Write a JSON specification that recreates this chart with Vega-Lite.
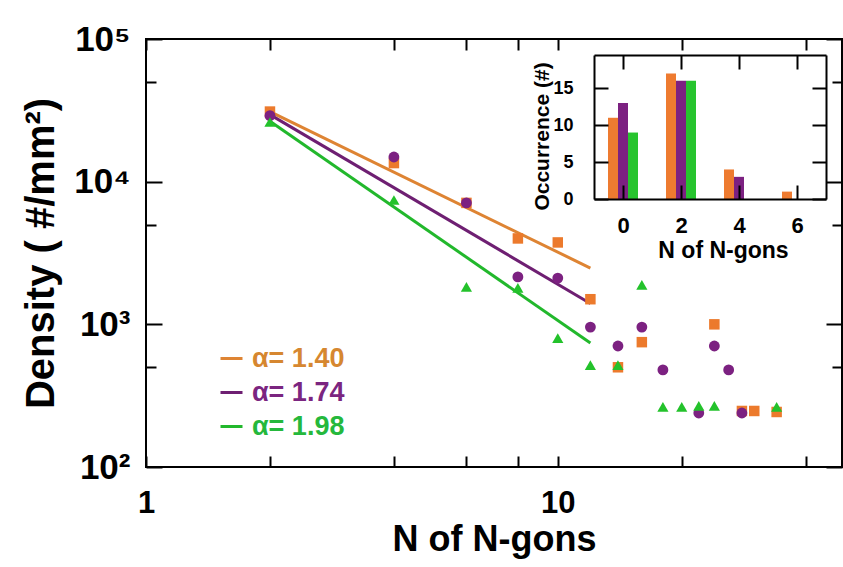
{
  "$schema": "https://vega.github.io/schema/vega-lite/v6.json",
  "width": 696,
  "height": 428,
  "autosize": {"type": "none"},
  "padding": {"left": 146, "top": 39, "right": 1, "bottom": 100},
  "background": "white",
  "config": {
    "view": {"stroke": "black", "strokeWidth": 2},
    "font": "Liberation Sans",
    "axis": {
      "grid": false,
      "labelFont": "Liberation Sans",
      "titleFont": "Liberation Sans",
      "labelFontWeight": "bold",
      "titleFontWeight": "bold",
      "labelColor": "black",
      "titleColor": "black",
      "tickColor": "black",
      "domainColor": "black",
      "tickWidth": 2,
      "domainWidth": 2
    }
  },
  "datasets": {
    "points": [
      {"N": 2, "Density": 31000, "series": "α= 1.40"},
      {"N": 4, "Density": 13500, "series": "α= 1.40"},
      {"N": 6, "Density": 7100, "series": "α= 1.40"},
      {"N": 8, "Density": 4000, "series": "α= 1.40"},
      {"N": 10, "Density": 3750, "series": "α= 1.40"},
      {"N": 12, "Density": 1500, "series": "α= 1.40"},
      {"N": 14, "Density": 500, "series": "α= 1.40"},
      {"N": 16, "Density": 750, "series": "α= 1.40"},
      {"N": 24, "Density": 1000, "series": "α= 1.40"},
      {"N": 28, "Density": 247, "series": "α= 1.40"},
      {"N": 30, "Density": 247, "series": "α= 1.40"},
      {"N": 34, "Density": 243, "series": "α= 1.40"},
      {"N": 2, "Density": 29000, "series": "α= 1.74"},
      {"N": 4, "Density": 14900, "series": "α= 1.74"},
      {"N": 6, "Density": 7100, "series": "α= 1.74"},
      {"N": 8, "Density": 2150, "series": "α= 1.74"},
      {"N": 10, "Density": 2110, "series": "α= 1.74"},
      {"N": 12, "Density": 957, "series": "α= 1.74"},
      {"N": 14, "Density": 705, "series": "α= 1.74"},
      {"N": 16, "Density": 957, "series": "α= 1.74"},
      {"N": 18, "Density": 479, "series": "α= 1.74"},
      {"N": 22, "Density": 239, "series": "α= 1.74"},
      {"N": 24, "Density": 705, "series": "α= 1.74"},
      {"N": 26, "Density": 479, "series": "α= 1.74"},
      {"N": 28, "Density": 239, "series": "α= 1.74"},
      {"N": 2, "Density": 26200, "series": "α= 1.98"},
      {"N": 4, "Density": 7440, "series": "α= 1.98"},
      {"N": 6, "Density": 1830, "series": "α= 1.98"},
      {"N": 8, "Density": 1800, "series": "α= 1.98"},
      {"N": 10, "Density": 800, "series": "α= 1.98"},
      {"N": 12, "Density": 518, "series": "α= 1.98"},
      {"N": 14, "Density": 518, "series": "α= 1.98"},
      {"N": 16, "Density": 1890, "series": "α= 1.98"},
      {"N": 18, "Density": 264, "series": "α= 1.98"},
      {"N": 20, "Density": 264, "series": "α= 1.98"},
      {"N": 22, "Density": 268, "series": "α= 1.98"},
      {"N": 24, "Density": 268, "series": "α= 1.98"},
      {"N": 34, "Density": 264, "series": "α= 1.98"}
    ],
    "fits": [
      {"N": 2, "Density": 31000, "series": "α= 1.40"},
      {"N": 12, "Density": 2480, "series": "α= 1.40"},
      {"N": 2, "Density": 29500, "series": "α= 1.74"},
      {"N": 12, "Density": 1400, "series": "α= 1.74"},
      {"N": 2, "Density": 26500, "series": "α= 1.98"},
      {"N": 12, "Density": 740, "series": "α= 1.98"}
    ],
    "hist": [
      {"n": 0, "count": 11, "series": "α= 1.40"},
      {"n": 0, "count": 13, "series": "α= 1.74"},
      {"n": 0, "count": 9, "series": "α= 1.98"},
      {"n": 2, "count": 17, "series": "α= 1.40"},
      {"n": 2, "count": 16, "series": "α= 1.74"},
      {"n": 2, "count": 16, "series": "α= 1.98"},
      {"n": 4, "count": 4, "series": "α= 1.40"},
      {"n": 4, "count": 3, "series": "α= 1.74"},
      {"n": 4, "count": 0, "series": "α= 1.98"},
      {"n": 6, "count": 1, "series": "α= 1.40"},
      {"n": 6, "count": 0, "series": "α= 1.74"},
      {"n": 6, "count": 0, "series": "α= 1.98"}
    ]
  },
  "resolve": {
    "scale": {"x": "independent", "y": "independent", "color": "independent"},
    "axis": {"x": "independent", "y": "independent"},
    "legend": {"color": "independent"}
  },
  "layer": [
    {
      "data": {"name": "fits"},
      "mark": {"type": "line", "strokeWidth": 3},
      "encoding": {
        "x": {
          "field": "N", "type": "quantitative",
          "scale": {"type": "log", "domain": [1, 49], "nice": false},
          "axis": {
            "orient": "top", "values": [1, 2, 4, 6, 8, 10, 20, 40], "labels": false,
            "tickSize": -11, "domain": false, "title": null
          }
        },
        "y": {
          "field": "Density", "type": "quantitative",
          "scale": {"type": "log", "domain": [100, 100000], "nice": false},
          "axis": {
            "orient": "right", "values": [100, 500, 1000, 5000, 10000, 50000, 100000], "labels": false,
            "tickSize": {"condition": {"test": "indexof([100,1000,10000,100000], datum.value) >= 0", "value": -16}, "value": -10},
            "domain": false, "title": null
          }
        },
        "color": {
          "field": "series", "type": "nominal",
          "scale": {"domain": ["α= 1.40", "α= 1.74", "α= 1.98"], "range": ["#DE8433", "#6E1F72", "#22B82C"]},
          "legend": {
            "orient": "none", "legendX": 72, "legendY": 306, "title": null,
            "symbolType": "stroke", "symbolSize": 484, "symbolStrokeWidth": 3,
            "labelFont": "Liberation Sans", "labelFontWeight": "bold", "labelFontSize": 27,
            "rowPadding": 6, "labelOffset": 7,
            "encode": {"labels": {"update": {"fill": {"signal": "datum.label === 'α= 1.40' ? '#D68730' : datum.label === 'α= 1.74' ? '#7B2580' : '#25B83C'"}}}}
          }
        },
        "detail": {"field": "series"}
      }
    },
    {
      "data": {"name": "points"},
      "mark": {"type": "point", "filled": true, "opacity": 1},
      "encoding": {
        "x": {
          "field": "N", "type": "quantitative",
          "scale": {"type": "log", "domain": [1, 49], "nice": false},
          "axis": {
            "orient": "bottom", "values": [1, 2, 4, 6, 8, 10, 20, 40],
            "labelExpr": "datum.value == 1 || datum.value == 10 ? datum.label : ''",
            "labelFlush": false, "labelFontSize": 31, "labelPadding": 32,
            "tickSize": -11, "domain": false,
            "title": "N of N-gons", "titleFontSize": 36, "titleBaseline": "alphabetic", "titleY": 83
          }
        },
        "y": {
          "field": "Density", "type": "quantitative",
          "scale": {"type": "log", "domain": [100, 100000], "nice": false},
          "axis": {
            "orient": "left", "values": [100, 500, 1000, 5000, 10000, 50000, 100000],
            "labelExpr": "datum.value == 100 ? '10²' : datum.value == 1000 ? '10³' : datum.value == 10000 ? '10⁴' : datum.value == 100000 ? '10⁵' : ''",
            "labelFontSize": 35, "labelPadding": 32,
            "tickSize": {"condition": {"test": "indexof([100,1000,10000,100000], datum.value) >= 0", "value": -16}, "value": -10},
            "domain": false,
            "title": "Density ( #/mm²)", "titleFontSize": 40, "titleBaseline": "alphabetic", "titleX": -93
          }
        },
        "color": {
          "field": "series", "type": "nominal", "legend": null,
          "scale": {"domain": ["α= 1.40", "α= 1.74", "α= 1.98"], "range": ["#EC7A2C", "#7C2181", "#23C22B"]}
        },
        "shape": {
          "field": "series", "type": "nominal", "legend": null,
          "scale": {"domain": ["α= 1.40", "α= 1.74", "α= 1.98"], "range": ["square", "circle", "triangle-up"]}
        },
        "size": {
          "field": "series", "type": "nominal", "legend": null,
          "scale": {"domain": ["α= 1.40", "α= 1.74", "α= 1.98"], "range": [110, 125, 160]}
        }
      }
    },
    {
      "data": {"name": "hist"},
      "mark": {"type": "bar"},
      "encoding": {
        "x": {
          "field": "n", "type": "ordinal",
          "scale": {"type": "point", "domain": [-1, 0, 1, 2, 3, 4, 5, 6, 7], "range": [448, 680], "padding": 0},
          "axis": {
            "orient": "bottom", "offset": -268, "values": [0, 2, 4, 6], "labelAngle": 0, "zindex": 1,
            "labelFlush": false, "labelFontSize": 22, "labelPadding": 30,
            "tickSize": -14, "domain": true,
            "title": "N of N-gons", "titleFontSize": 23, "titleBaseline": "alphabetic", "titleX": 577, "titleY": 58
          }
        },
        "xOffset": {
          "field": "series", "type": "nominal",
          "scale": {"domain": ["α= 1.40", "α= 1.74", "α= 1.98"], "range": [-15, 15], "paddingInner": 0, "paddingOuter": 0}
        },
        "y": {
          "field": "count", "type": "quantitative", "stack": null,
          "scale": {"domain": [0, 19.5], "range": [160, 16], "nice": false},
          "axis": {
            "orient": "left", "offset": -448, "values": [0, 5, 10, 15], "zindex": 1,
            "labelFontSize": 18, "labelPadding": 35,
            "tickSize": -14, "domain": true,
            "title": "Occurrence (#)", "titleFontSize": 21, "titleBaseline": "alphabetic", "titleX": -46, "titleY": 97
          }
        },
        "color": {
          "field": "series", "type": "nominal", "legend": null,
          "scale": {"domain": ["α= 1.40", "α= 1.74", "α= 1.98"], "range": ["#EE7B30", "#7C2181", "#27C42E"]}
        }
      }
    },
    {
      "data": {"name": "hist"},
      "mark": {"type": "bar", "opacity": 0},
      "encoding": {
        "x": {
          "field": "n", "type": "ordinal",
          "scale": {"type": "point", "domain": [-1, 0, 1, 2, 3, 4, 5, 6, 7], "range": [448, 680], "padding": 0},
          "axis": {
            "orient": "top", "offset": -16, "values": [0, 2, 4, 6], "labels": false, "zindex": 1,
            "tickSize": -14, "domain": true, "title": null
          }
        },
        "y": {
          "field": "count", "type": "quantitative", "stack": null,
          "scale": {"domain": [0, 19.5], "range": [160, 16], "nice": false},
          "axis": {
            "orient": "right", "offset": -16, "values": [0, 5, 10, 15], "labels": false, "zindex": 1,
            "tickSize": -14, "domain": true, "title": null
          }
        }
      }
    }
  ]
}
